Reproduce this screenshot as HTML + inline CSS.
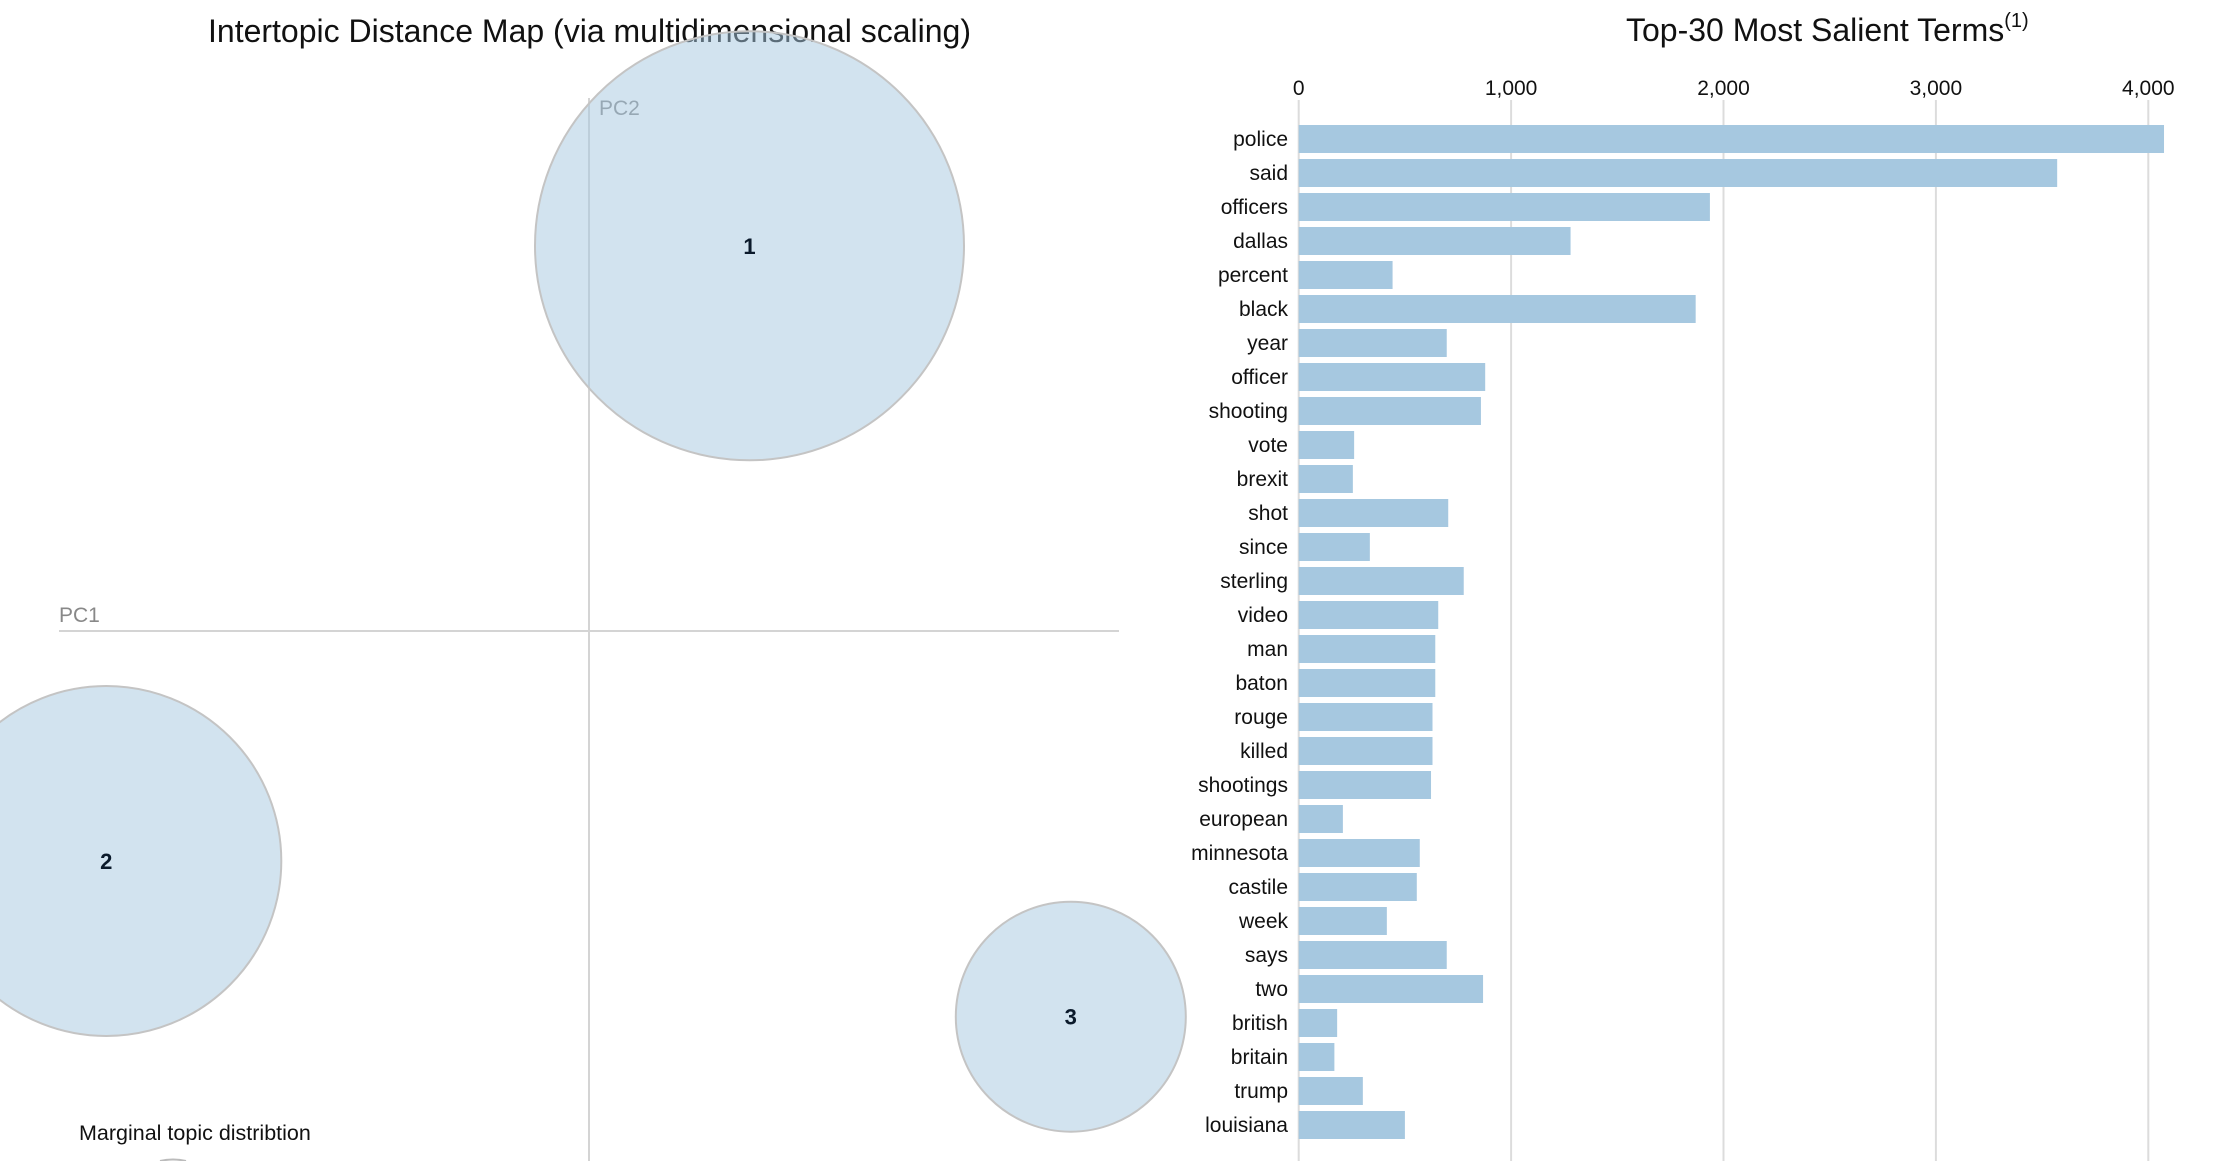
<!DOCTYPE html>
<html><head><meta charset="utf-8"><style>
html,body{margin:0;background:#fff;overflow:hidden;width:2224px;height:1161px;}
svg{display:block;font-family:"Liberation Sans",Arial,sans-serif;}
</style></head><body>
<svg id="chart" width="2224" height="1161" viewBox="0 0 2224 1161" xmlns="http://www.w3.org/2000/svg" overflow="hidden">
<defs><clipPath id="frame"><rect x="0" y="0" width="2224" height="1161"/></clipPath></defs>
<g id="left" clip-path="url(#frame)">
<text x="208" y="42" font-size="32" fill="#111">Intertopic Distance Map (via multidimensional scaling)</text>
<line x1="59" y1="631" x2="1119" y2="631" stroke="#d4d4d4" stroke-width="2"/>
<line x1="589" y1="98" x2="589" y2="1161" stroke="#d4d4d4" stroke-width="2"/>
<text x="59" y="622" font-size="21" fill="#888">PC1</text>
<text x="599" y="115" font-size="21" fill="#888">PC2</text>
<g id="circles"></g>
<text x="79" y="1140" font-size="21.5" fill="#111">Marginal topic distribtion</text>
<path d="M160 1161 Q173 1158 186 1161" fill="none" stroke="#bbb" stroke-width="2"/>
</g>
<g id="right">
<text x="1626" y="41" font-size="32" fill="#111">Top-30 Most Salient Terms<tspan font-size="20" dy="-14">(1)</tspan></text>
<g id="grid"></g>
<g id="bars"></g>
</g>
</svg>
<script>
const topicIds = ["1","2","3"];
const topicX = [749.5, 106.3, 1070.8];
const topicY = [245.8, 861, 1016.7];
const topicR = [214.5, 175, 115];

const terms = ["police","said","officers","dallas","percent","black","year","officer","shooting","vote","brexit","shot","since","sterling","video","man","baton","rouge","killed","shootings","european","minnesota","castile","week","says","two","british","britain","trump","louisiana"];
const termValues = [4074,3571,1936,1280,442,1869,697,878,858,261,255,704,335,777,657,643,643,630,630,623,208,570,556,415,697,868,181,168,302,500];
const tickValues = [0,1000,2000,3000,4000];
const tickLabels = ["0","1,000","2,000","3,000","4,000"];

const NS="http://www.w3.org/2000/svg";
function mk(t,a,p){const e=document.createElementNS(NS,t);for(const k in a)e.setAttribute(k,a[k]);p.appendChild(e);return e;}
const x0=1298.7, pxPer=0.2124;
const xs=v=>x0+v*pxPer;
const ys=i=>125+i*34;

const cg=document.getElementById('circles');
topicIds.forEach((id,i)=>{
  const c=mk('circle',{cx:topicX[i],cy:topicY[i],r:topicR[i],fill:'rgba(166,200,224,0.5)',stroke:'#c4c4c4','stroke-width':2},cg);
  
  
  const t=mk('text',{x:topicX[i],y:topicY[i]+8,'font-size':22,'font-weight':'bold','text-anchor':'middle',fill:'#0b1a2b'},cg);
  t.textContent=id;
  
  
});

const gg=document.getElementById('grid');
tickValues.forEach((v,i)=>{
  const l=mk('line',{x1:xs(v),y1:100,x2:xs(v),y2:1161,stroke:'#dcdcdc','stroke-width':2},gg);
  
  
  const t=mk('text',{x:xs(v),y:95,'font-size':21,'text-anchor':'middle',fill:'#111'},gg);
  t.textContent=tickLabels[i];
  
  
});

const bg=document.getElementById('bars');
terms.forEach((term,i)=>{
  const r=mk('rect',{x:x0,y:ys(i),width:Math.max(0,xs(termValues[i])-x0),height:28,fill:'#a6c8e0'},bg);
  
  
  const t=mk('text',{x:1288,y:ys(i)+21,'font-size':21,'text-anchor':'end',fill:'#111'},bg);
  t.textContent=term;
  
  
});
</script>
</body></html>
